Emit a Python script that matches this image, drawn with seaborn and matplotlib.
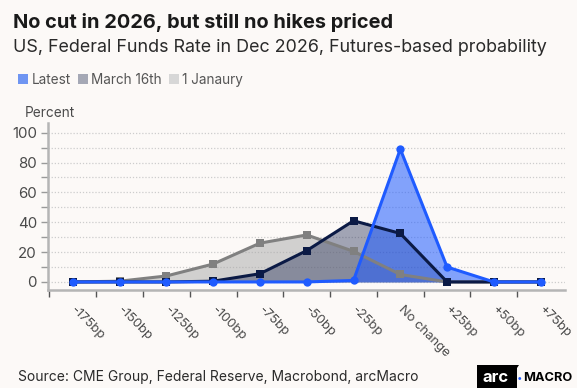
import numpy as np
import pandas as pd
import matplotlib
matplotlib.use('Agg')
import matplotlib.pyplot as plt
from matplotlib.patches import Polygon
import seaborn as sns
from matplotlib.lines import Line2D
from matplotlib.ticker import FixedLocator

# ---- data ----
categories = ['-175bp', '-150bp', '-125bp', '-100bp', '-75bp', '-50bp',
              '-25bp', 'No change', '+25bp', '+50bp', '+75bp']
latest = [0, 0, 0, 0, 0, 0, 1, 89, 10, 0, 0]
march_16th = [0, 0, 0, 0.5, 5.5, 21, 41, 32.5, 0, 0, 0]
jan_1 = [0, 0.5, 4, 12, 26, 31.5, 20.5, 5, 0, 0, 0]
series_names = ['Latest', 'March 16th', '1 Janaury']
y_ticks = [0, 20, 40, 60, 80, 100]
y_minor = [10, 30, 50, 70, 90]

BG = '#fcf9f7'
W, H = 577, 388
sns.set_theme(style='white')
plt.rcParams['font.family'] = ['Inter', 'DejaVu Sans']

pos = np.arange(len(categories))
df = pd.DataFrame({
    'pos': np.tile(pos, 3),
    'value': latest + march_16th + jan_1,
    'series': np.repeat(series_names, len(categories)),
})

fig = plt.figure(figsize=(W / 100, H / 100), dpi=100, facecolor=BG)
ax = fig.add_axes([48 / W, 1 - 290 / H, (565 - 48) / W, (290 - 122.7) / H])
ax.set_facecolor(BG)

styles = {
    '1 Janaury': dict(line='#808080', fill='#a8a8a8', falpha=0.5, marker='s', ms=6, z=2),
    'March 16th': dict(line='#0b1a45', fill='#1a2550', falpha=0.4, marker='s', ms=6, z=3),
    'Latest': dict(line='#1f5bff', fill='#1f5bff', falpha=0.55, marker='o', ms=6, z=4),
}
for name in ['1 Janaury', 'March 16th', 'Latest']:
    st = styles[name]
    sub = df[df['series'] == name]
    ax.fill_between(sub['pos'], sub['value'], 0, color=st['fill'], alpha=st['falpha'],
                    linewidth=0, zorder=st['z'])
    sns.lineplot(data=sub, x='pos', y='value', ax=ax, color=st['line'], linewidth=2.2,
                 marker=st['marker'], markersize=st['ms'], markeredgewidth=0,
                 markerfacecolor=st['line'], legend=False)
    ax.lines[-1].set_zorder(st['z'] + 5)

ax.set_xlim(-0.53, 10.52)
ax.set_ylim(-5.4, 106.7)
ax.set_xlabel('')
ax.set_ylabel('')

# y axis
ax.yaxis.set_major_locator(FixedLocator(y_ticks))
ax.yaxis.set_minor_locator(FixedLocator(y_minor))
ax.set_yticklabels([str(v) for v in y_ticks])
ax.tick_params(axis='y', which='both', left=True, length=5, width=1, color='#9a9a9a',
               labelsize=10.8, labelcolor='#4a4a4a', pad=3)
ax.grid(False)
for v in y_ticks + y_minor:
    ax.axhline(v, color='#cdcdcd', linestyle=(0, (1, 1.5)), linewidth=0.9, zorder=1)

# x axis
ax.xaxis.set_major_locator(FixedLocator(pos))
ax.xaxis.set_minor_locator(FixedLocator(np.arange(-0.5, 10, 1.0)))
ax.set_xticklabels(categories)
ax.tick_params(axis='x', which='major', bottom=False, length=0, labelsize=9.4,
               labelcolor='#4a4a4a', pad=13)
ax.tick_params(axis='x', which='minor', bottom=True, length=5, width=1, color='#555555')
for lbl in ax.get_xticklabels():
    lbl.set_rotation(-45)
    lbl.set_ha('left')
    lbl.set_va('center')
    lbl.set_rotation_mode('anchor')

for s in ['top', 'right']:
    ax.spines[s].set_visible(False)
for s in ['left', 'bottom']:
    ax.spines[s].set_color('#b5b5b5')
    ax.spines[s].set_linewidth(1.8)

# texts
fig.text(13 / W, 1 - 28.3 / H, 'No cut in 2026, but still no hikes priced', fontsize=14.4,
         fontweight='bold', color='#1a1a1a', va='baseline', ha='left')
fig.text(13 / W, 1 - 52 / H, 'US, Federal Funds Rate in Dec 2026, Futures-based probability',
         fontsize=12.9, color='#2a2a2a', va='baseline', ha='left')
fig.text(25 / W, 1 - 113 / H, 'Percent', fontsize=9.8, color='#4a4a4a', va='center', ha='left')
fig.text(18 / W, 1 - 381 / H, 'Source: CME Group, Federal Reserve, Macrobond, arcMacro',
         fontsize=10.0, color='#2a2a2a', va='baseline', ha='left')

handles = [Line2D([], [], linestyle='none', marker='s', markersize=6.5, markeredgewidth=0,
                  markerfacecolor=c) for c in ['#6f95f2', '#a5a8b5', '#d7d7d7']]
fig.legend(handles, series_names, loc='center left', bbox_to_anchor=(19 / W, 1 - 80 / H),
           ncol=3, frameon=False, fontsize=9.75, handlelength=0.6, handletextpad=0.35,
           columnspacing=0.55, labelcolor='#555555', borderaxespad=0, borderpad=0)

# logo
fig.patches.append(Polygon([[477 / W, 0], [517 / W, 0], [517 / W, 1 - 368 / H],
                            [519 / W, 1 - 365 / H], [477 / W, 1 - 365 / H]],
                           closed=True, transform=fig.transFigure, facecolor='black',
                           edgecolor='none'))
fig.text(496 / W, 1 - 378 / H, 'arc', fontsize=12, fontweight='bold', color='white',
         va='center', ha='center')
fig.text(519.5 / W, 1 - 378 / H, '\u2022', fontsize=7, color='#1f5bff', va='center',
         ha='center', zorder=5)
fig.text(523 / W, 1 - 378 / H, 'MACRO', fontsize=9.2, fontweight='bold', color='black',
         va='center', ha='left')

fig.savefig('out.png', dpi=100, facecolor=BG)
